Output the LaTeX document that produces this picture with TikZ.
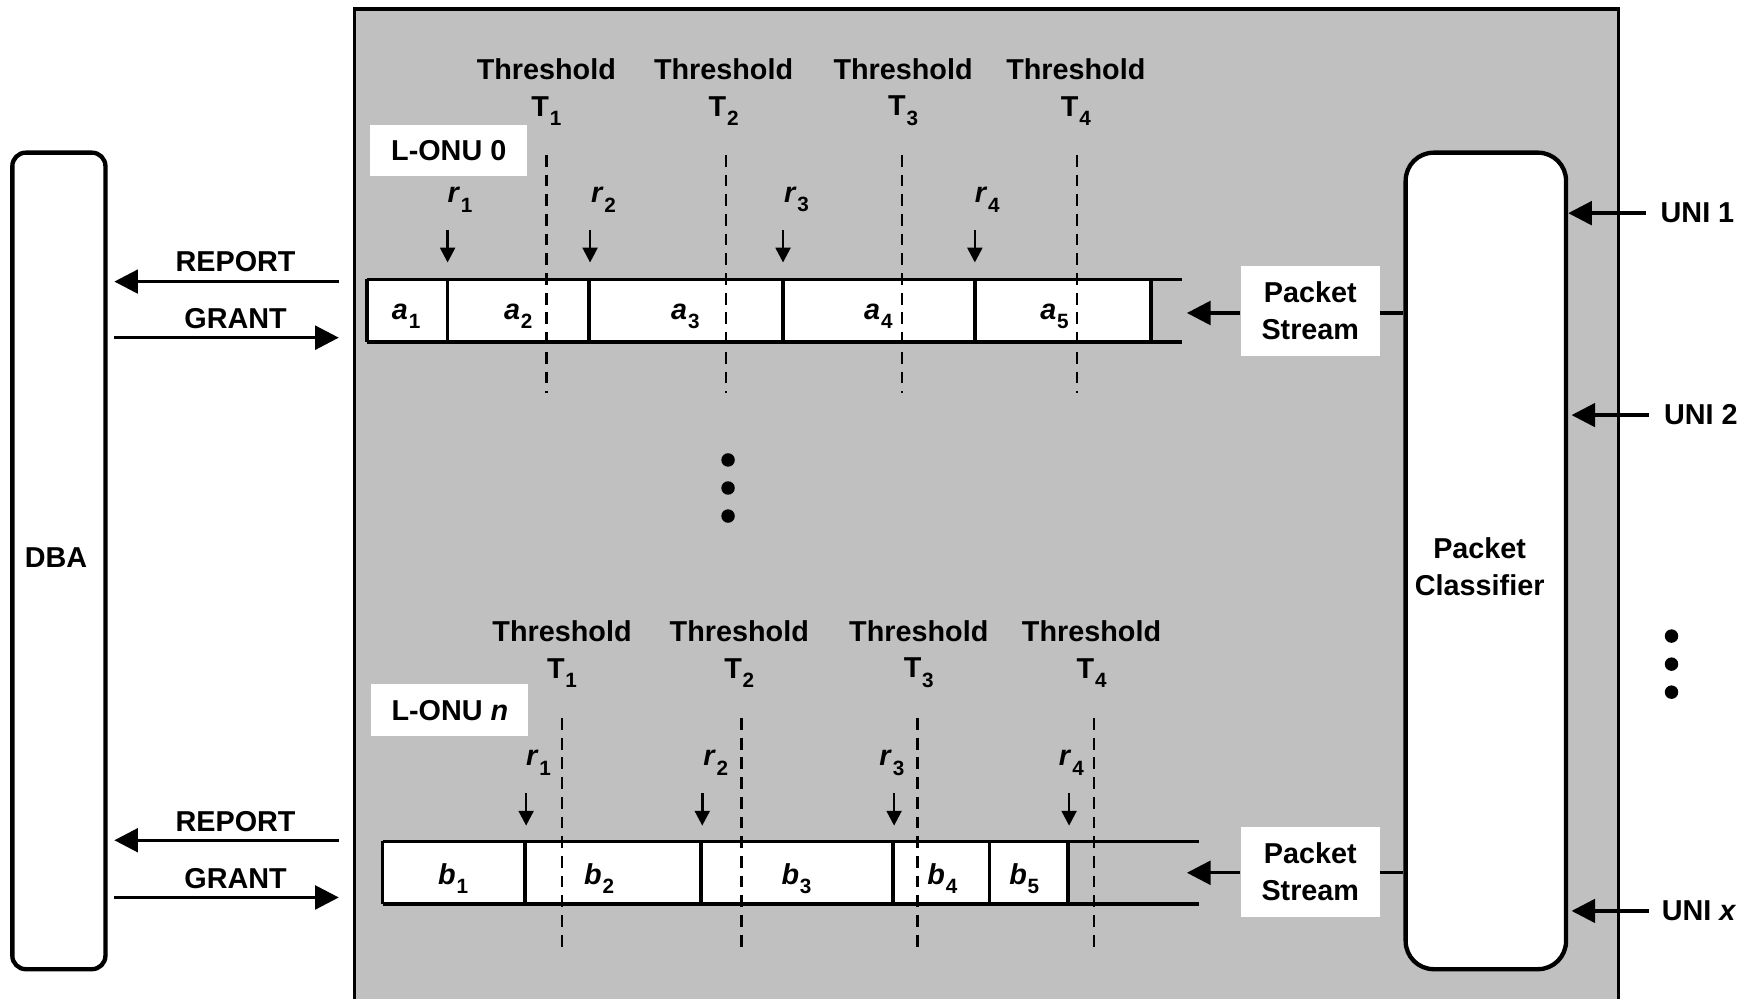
\documentclass[tikz,border=0pt]{standalone}
\usepackage{fontspec}
\setmainfont{Liberation Sans}
\usetikzlibrary{arrows.meta}
\definecolor{panel}{RGB}{192,192,192}
\newcommand\sbs[1]{\kern0.03em\raisebox{-0.32em}{\fontsize{10.5}{10.5}\selectfont\upshape #1}}
\begin{document}
\begin{tikzpicture}[x=0.02cm,y=-0.02cm,
  txt/.style={font=\fontsize{14.6}{18.5}\selectfont\bfseries, inner sep=0pt, align=center},
  bigarrow/.style={line width=1.7pt,-{Triangle[length=12pt,width=12pt]}},
  smallarrow/.style={line width=1.3pt,-{Triangle[length=7.5pt,width=7.5pt]}},
  thrline/.style={line width=1.3pt, dash pattern=on 6pt off 4pt},
  qline/.style={line width=1.8pt},
  onubox/.style={txt, fill=white, minimum width=2.8cm, minimum height=0.92cm},
  psbox/.style={txt, fill=white, minimum width=2.48cm, minimum height=1.6cm},
  dot/.style={fill=black}]
\useasboundingbox (0,0) rectangle (1568,890);
% main panel
\fill[panel] (316,8) rectangle (1443,895);
\draw[line width=1.7pt] (316,895) -- (316,8) -- (1443,8) -- (1443,895);

% DBA and classifier
\node[draw, line width=2.2pt, fill=white, rounded corners=0.24cm, minimum width=1.66cm, minimum height=14.56cm, inner sep=0pt] (dba) at (52.5,500) {};
\node[txt] (dbatext) at (50,497) {DBA};
\node[draw, line width=2.2pt, fill=white, rounded corners=0.5cm, minimum width=2.86cm, minimum height=14.56cm, inner sep=0pt] (pc) at (1324.5,500) {};
\node[txt] (pctext) at (1319,505) {Packet\\Classifier};

% UNI inputs
\node[txt, anchor=west] (uni1) at (1480,190) {UNI 1};
\node[txt, anchor=west] (uni2) at (1483,370) {UNI 2};
\node[txt, anchor=west] (unix) at (1481,812) {UNI \textit{x}};
\draw[bigarrow] (uni1.west) ++(-13,0) -- (pc.east |- uni1.west);
\draw[bigarrow] (uni2.west) ++(-13,0) -- ([xshift=0.06cm]pc.east |- uni2.west);
\draw[bigarrow] (unix.west) ++(-11,0) -- ([xshift=0.06cm]pc.east |- unix.west);
\fill[dot] (1490,567) circle (0.12cm) (1490,592) circle (0.12cm) (1490,617) circle (0.12cm);

% ===== L-ONU 0 =====
\node[onubox] (onu0) at (400,134) {L-ONU 0};
\foreach \x/\i in {487/1,645/2,805/3,959/4}{
  \node[txt] (thA\i) at (\x,82) {Threshold\\T\sbs{\i}};
}
\fill[white] (327,249) rectangle (1026,305);
\draw[qline] (327,249) -- (1054,249) (327,305) -- (1054,305);
\foreach \x in {327,399,525,698,869,1026}{ \draw[qline] (\x,249) -- (\x,305); }
\foreach \x/\i in {362/1,462/2,611/3,783/4,940/5}{
  \node[txt] (a\i) at (\x,282) {\textit{a}\sbs{\i}};
}
\foreach \x/\i in {487/1,647/2,804/3,960/4}{
  \draw[thrline] (\x,138) -- (\x,350);
}
\foreach \x/\lx/\i in {399/410/1,526/538/2,698/710/3,869/880/4}{
  \node[txt] (rA\i) at (\lx,178) {\textit{r}\sbs{\i}};
  \coordinate (rAs\i) at (\x,205);
  \coordinate (rAe\i) at (\x,234);
  \draw[smallarrow] (rAs\i) -- (rAe\i);
}
\node[psbox] (ps0) at (1168,277) {Packet\\Stream};
\coordinate (q0end) at (1058,279);
\draw[bigarrow] (ps0.west |- q0end) -- (q0end);
\draw[line width=1.7pt] (ps0.east |- q0end) -- (pc.west |- q0end);
\node[txt] (rep0) at (210,233) {REPORT};
\node[txt] (gr0) at (210,284) {GRANT};
\coordinate (rep0s) at (302,251);
\coordinate (gr0e) at (302,301);
\draw[bigarrow] (rep0s) -- ([xshift=0.12cm]dba.east |- rep0s);
\draw[bigarrow] ([xshift=0.12cm]dba.east |- gr0e) -- (gr0e);

% middle dots
\fill[dot] (649,410) circle (0.12cm) (649,435) circle (0.12cm) (649,460) circle (0.12cm);

% ===== L-ONU n =====
\node[onubox] (onun) at (401,633) {L-ONU \textit{n}};
\foreach \x/\i in {501/1,659/2,819/3,973/4}{
  \node[txt] (thB\i) at (\x,583) {Threshold\\T\sbs{\i}};
}
\fill[white] (341,750) rectangle (952,806);
\draw[qline] (341,750) -- (1069,750) (341,806) -- (1069,806);
\foreach \x in {341,468,625,796,882,952}{ \draw[qline] (\x,750) -- (\x,806); }
\foreach \x/\i in {404/1,534/2,710/3,840/4,913/5}{
  \node[txt] (b\i) at (\x,783) {\textit{b}\sbs{\i}};
}
\foreach \x/\i in {501/1,661/2,818/3,975/4}{
  \draw[thrline] (\x,640) -- (\x,850);
}
\foreach \x/\lx/\i in {469/480/1,626/638/2,797/795/3,953/955/4}{
  \node[txt] (rB\i) at (\lx,680) {\textit{r}\sbs{\i}};
  \coordinate (rBs\i) at (\x,707);
  \coordinate (rBe\i) at (\x,736);
  \draw[smallarrow] (rBs\i) -- (rBe\i);
}
\node[psbox] (psn) at (1168,777) {Packet\\Stream};
\coordinate (qnend) at (1058,778);
\draw[bigarrow] (psn.west |- qnend) -- (qnend);
\draw[line width=1.7pt] (psn.east |- qnend) -- (pc.west |- qnend);
\node[txt] (repn) at (210,732) {REPORT};
\node[txt] (grn) at (210,783) {GRANT};
\coordinate (repns) at (302,749);
\coordinate (grne) at (302,800);
\draw[bigarrow] (repns) -- ([xshift=0.12cm]dba.east |- repns);
\draw[bigarrow] ([xshift=0.12cm]dba.east |- grne) -- (grne);
\end{tikzpicture}
\end{document}
